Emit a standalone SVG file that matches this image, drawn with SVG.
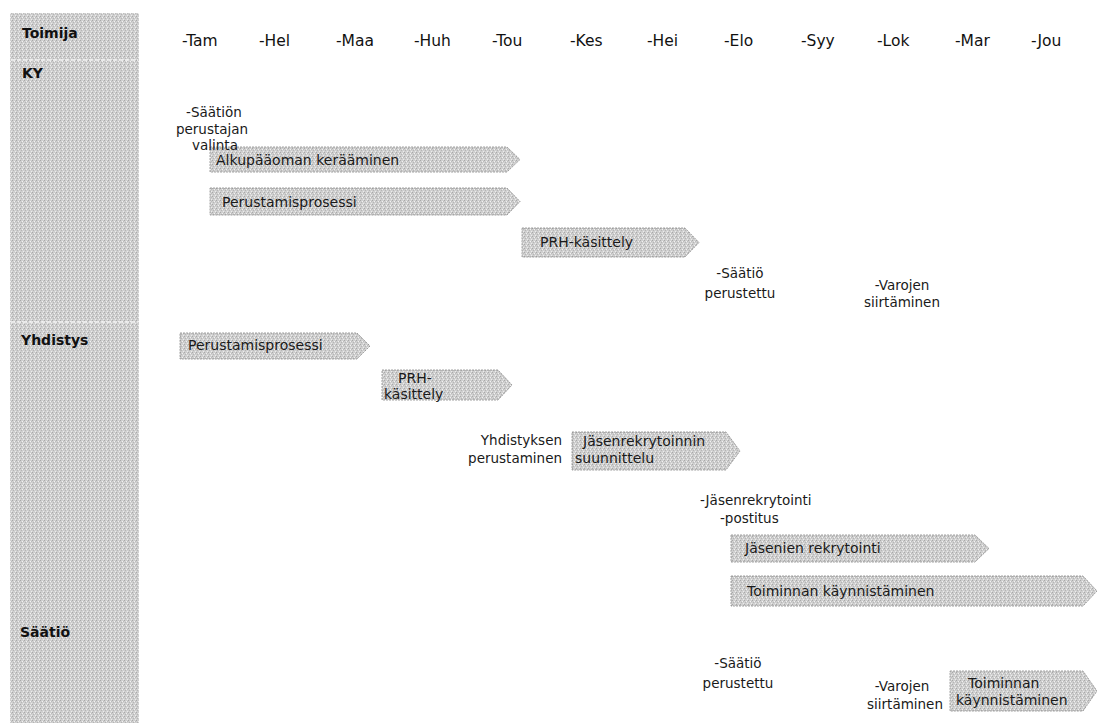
<svg xmlns="http://www.w3.org/2000/svg" width="1097" height="723" viewBox="0 0 1097 723">
<defs>
<pattern id="dither" width="4" height="4" patternUnits="userSpaceOnUse">
<rect width="4" height="4" fill="#cfcfcf"/>
<rect x="0" y="0" width="1" height="1" fill="#a9a9a9"/>
<rect x="2" y="1" width="1" height="1" fill="#f2f2f2"/>
<rect x="1" y="2" width="1" height="1" fill="#b5b5b5"/>
<rect x="3" y="3" width="1" height="1" fill="#ececec"/>
<rect x="3" y="1" width="1" height="1" fill="#bdbdbd"/>
</pattern>
</defs>
<style>
.col{fill:url(#dither);}
.div{stroke:#f4f4f4;stroke-width:1.5;stroke-dasharray:4 2;}
.hdr{font-family:"DejaVu Sans",sans-serif;font-size:14px;font-weight:bold;fill:#111;}
.mon{font-family:"DejaVu Sans",sans-serif;font-size:15.5px;fill:#111;}
.t{font-family:"DejaVu Sans",sans-serif;font-size:13.5px;fill:#1a1a1a;}
.b{font-size:14px;}
.m{text-anchor:middle;}
.e{text-anchor:end;}
.arr{fill:url(#dither);stroke:#8c8c8c;stroke-width:0.8;stroke-dasharray:2 1;}
</style>
<g id="column">
<rect class="col" x="10" y="13" width="129" height="710"/>
<line class="div" x1="11" y1="60" x2="138" y2="60"/>
<line class="div" x1="11" y1="322" x2="138" y2="322"/>
<text class="hdr" x="22" y="38">Toimija</text>
<text class="hdr" x="22" y="78">KY</text>
<text class="hdr" x="21" y="345">Yhdistys</text>
<text class="hdr" x="20" y="637">Säätiö</text>
</g>
<g id="months" class="mon">
<text x="182" y="46">-Tam</text>
<text x="259" y="46">-Hel</text>
<text x="336" y="46">-Maa</text>
<text x="414" y="46">-Huh</text>
<text x="492" y="46">-Tou</text>
<text x="570" y="46">-Kes</text>
<text x="647" y="46">-Hei</text>
<text x="724" y="46">-Elo</text>
<text x="801" y="46">-Syy</text>
<text x="877" y="46">-Lok</text>
<text x="955" y="46">-Mar</text>
<text x="1031" y="46">-Jou</text>
</g>
<g id="connectors"></g>
<g id="a1"><path class="arr" d="M210,147 H507 L520,159.5 L507,172 H210 Z"/><text class="t b" x="216" y="165">Alkupääoman kerääminen</text></g>
<g id="a2"><path class="arr" d="M210,188 H507 L520,201.5 L507,215 H210 Z"/><text class="t b" x="222" y="207">Perustamisprosessi</text></g>
<g id="a3"><path class="arr" d="M522,228 H685 L699,242.5 L685,257 H522 Z"/><text class="t b" x="540" y="247">PRH-käsittely</text></g>
<g id="n1"><text class="t m" x="214" y="117">-Säätiön</text><text class="t m" x="212" y="134">perustajan</text><text class="t m" x="215" y="150">valinta</text></g>
<g id="n2"><text class="t m" x="740" y="278">-Säätiö</text><text class="t m" x="740" y="298">perustettu</text></g>
<g id="n3"><text class="t m" x="902" y="290">-Varojen</text><text class="t m" x="902" y="307">siirtäminen</text></g>
<g id="a4"><path class="arr" d="M180,333 H357 L370,346 L357,359 H180 Z"/><text class="t b" x="188" y="350">Perustamisprosessi</text></g>
<g id="a5"><path class="arr" d="M382,370 H498 L512,385 L498,400 H382 Z"/><text class="t b" x="398" y="383">PRH-</text><text class="t b" x="384" y="399">käsittely</text></g>
<g id="n4"><text class="t e" x="562" y="445">Yhdistyksen</text><text class="t e" x="562" y="463">perustaminen</text></g>
<g id="a6"><path class="arr" d="M572,432 H726 L740,451 L726,470 H572 Z"/><text class="t b" x="583" y="446">Jäsenrekrytoinnin</text><text class="t b" x="575" y="463">suunnittelu</text></g>
<g id="n5"><text class="t" x="700" y="505">-Jäsenrekrytointi</text><text class="t" x="720" y="523">-postitus</text></g>
<g id="a7"><path class="arr" d="M731,535 H975 L989,548.5 L975,562 H731 Z"/><text class="t b" x="745" y="553">Jäsenien rekrytointi</text></g>
<g id="a8"><path class="arr" d="M731,576 H1083 L1097,591 L1083,606 H731 Z"/><text class="t b" x="747" y="596">Toiminnan käynnistäminen</text></g>
<g id="n6"><text class="t m" x="738" y="668">-Säätiö</text><text class="t m" x="738" y="688">perustettu</text></g>
<g id="n7"><text class="t m" x="902" y="691">-Varojen</text><text class="t m" x="905" y="709">siirtäminen</text></g>
<g id="a9"><path class="arr" d="M950,671 H1083 L1097,691 L1083,711 H950 Z"/><text class="t b" x="968" y="688">Toiminnan</text><text class="t b" x="956" y="705">käynnistäminen</text></g>
</svg>
